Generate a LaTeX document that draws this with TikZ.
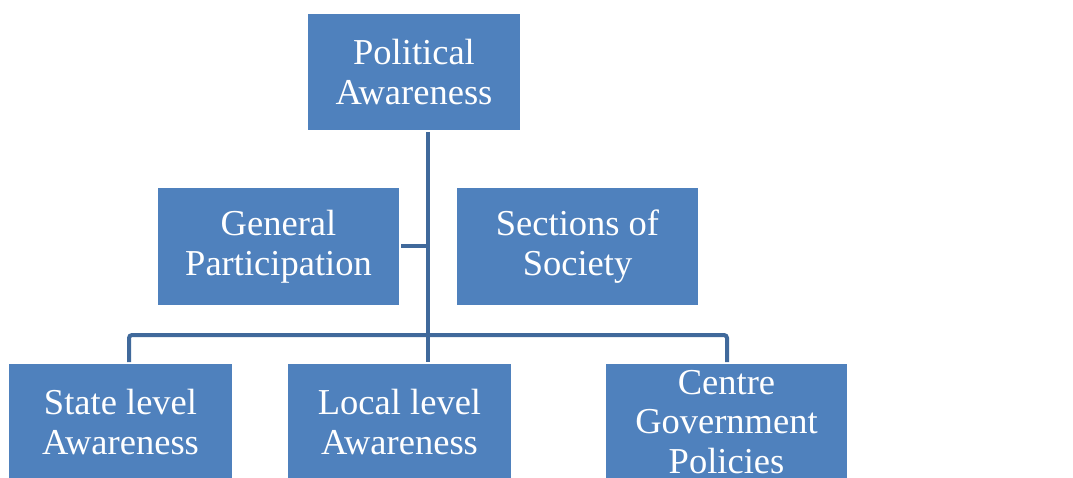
\documentclass[tikz,border=0pt]{standalone}
\usepackage{fontspec}
\setmainfont{Liberation Serif}
\usetikzlibrary{positioning}
\definecolor{boxblue}{HTML}{4F81BD}
\definecolor{linkblue}{HTML}{40699B}
\tikzset{
    % Box style
    topic/.style={
        rectangle,
        minimum width=#1,
        minimum height=118pt,
        align=center,
        font=\fontsize{36.5}{39.5}\selectfont,
        text=white,
        fill=boxblue,
        draw=white,
        line width=2pt,
        inner sep=2pt
    },
    topic/.default=243pt,
    % Connector style
    link/.style={
        draw=linkblue,
        line width=4pt
    }
}
\begin{document}
\begin{tikzpicture}[x=1pt, y=-1pt]

        \useasboundingbox (0,0) rectangle (1073,478);

        % Top
        \node[topic=214pt] (pol) at (414, 72) {Political\\Awareness};

        % Middle row
        \node[topic] (gen) at (278.5, 246.5) {General\\Participation};
        \node[topic] (sect) at (577.5, 246.5) {Sections of\\Society};

        % Bottom row
        \node[topic=225pt] (state) at (120.5, 422) {State level\\Awareness};
        \node[topic=225pt] (local) at (399.5, 422) {Local level\\Awareness};
        \node[topic] (centre) at (726.5, 422) {Centre\\Government\\Policies};

        % Connections
        \coordinate (bus) at (428, 335);
        \draw[link] ([xshift=14pt]pol.south) -- (bus |- local.north);
        \draw[link] (gen.east) -- (gen.east -| bus);
        \draw[link, rounded corners=3pt] ([xshift=8.5pt]state.north) |- (bus) -| ([xshift=0.5pt]centre.north);

    \end{tikzpicture}
\end{document}
